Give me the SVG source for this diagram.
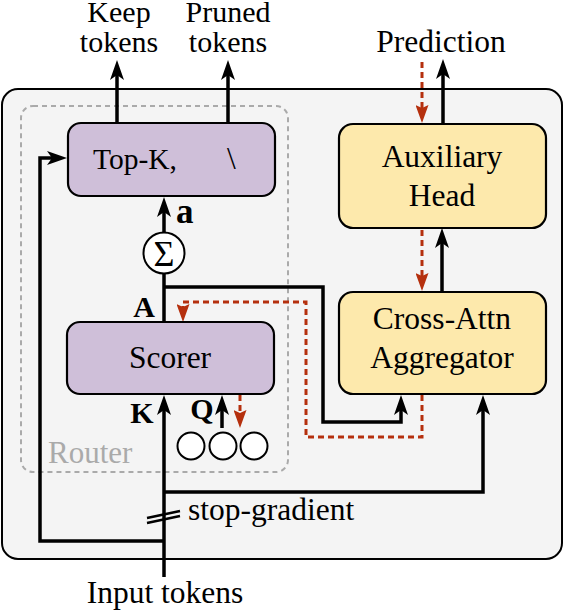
<svg xmlns="http://www.w3.org/2000/svg" width="565" height="611" viewBox="0 0 565 611">
<style>
text{font-family:'Liberation Serif','Tinos','Times New Roman','DejaVu Serif',serif;}
.t{font-size:31.5px;fill:#000;}
.s{font-size:30px;fill:#000;}
.b{font-size:30px;font-weight:bold;fill:#000;}
.box{stroke:#000;stroke-width:2.2;}
.p{fill:#cfbfd9;}
.y{fill:#fde9ac;}
.k{fill:none;stroke:#000;stroke-width:3.5;}
.r{fill:none;stroke:#b5300e;stroke-width:3;stroke-dasharray:6 4;}
</style>
<defs>
<marker id="ah" viewBox="0 0 20 14" refX="5" refY="7" markerWidth="20" markerHeight="14" markerUnits="userSpaceOnUse" orient="auto">
<path d="M0,0 L20,7 L0,14 L5,7 Z" fill="#000"/>
</marker>
<marker id="rh" viewBox="0 0 18 13" refX="3" refY="6.5" markerWidth="18" markerHeight="13" markerUnits="userSpaceOnUse" orient="auto">
<path d="M0,0 L18,6.5 L0,13 L3,6.5 Z" fill="#b5300e"/>
</marker>
</defs>
<rect x="2" y="89" width="560" height="470" rx="16" fill="#f4f4f4" stroke="#000" stroke-width="2"/>
<g id="router">
<rect x="21" y="106" width="267" height="366" rx="12" fill="none" stroke="#aaaaaa" stroke-width="2" stroke-dasharray="5 4"/>
<text x="48" y="463" class="t" style="fill:#aaaaaa;font-size:31px">Router</text>
</g>
<g id="connectors">
<path class="k" d="M117,123 V75" marker-end="url(#ah)"/>
<path class="k" d="M228,123 V75" marker-end="url(#ah)"/>
<path class="k" d="M443,124 V74" marker-end="url(#ah)"/>
<path class="r" d="M422,62 V108" marker-end="url(#rh)"/>
<path class="r" d="M422,230 V276" marker-end="url(#rh)"/>
<path class="k" d="M442,292 V243" marker-end="url(#ah)"/>
<path class="k" d="M164,232 V212" marker-end="url(#ah)"/>
<path class="k" d="M164,322 V274"/>
<path class="k" d="M164,287 H323 V422 H401 V410" marker-end="url(#ah)"/>
<path class="r" d="M422,395 V437 H306 V302 H183 V307" marker-end="url(#rh)"/>
<path class="k" d="M164,577 V410" marker-end="url(#ah)"/>
<path class="k" d="M164,541 H40 V158 H52" marker-end="url(#ah)"/>
<path class="k" d="M164,492 H483 V410" marker-end="url(#ah)"/>
<path class="k" d="M222,428 V410" marker-end="url(#ah)"/>
<path class="r" d="M240,395 V413" marker-end="url(#rh)"/>
<path d="M147,518 L180,511 M147,523 L180,516" stroke="#000" stroke-width="2.5" fill="none"/>
</g>
<g id="topk">
<rect class="box p" x="68" y="123" width="207" height="73" rx="13"/>
<text x="93" y="169" class="t" style="font-size:29.5px">Top-K,</text>
<text x="227" y="169" class="t">\</text>
</g>
<g id="sigma">
<circle cx="164" cy="253" r="20.5" fill="#fff" stroke="#000" stroke-width="2"/>
<text x="164" y="266" class="t" text-anchor="middle" style="font-size:36px">Σ</text>
</g>
<g id="scorer">
<rect class="box p" x="67" y="322" width="207" height="72" rx="13"/>
<text x="170" y="368" class="t" text-anchor="middle">Scorer</text>
</g>
<g id="queries">
<circle cx="191" cy="446" r="13.5" fill="#fff" stroke="#000" stroke-width="2"/>
<circle cx="223" cy="446" r="13.5" fill="#fff" stroke="#000" stroke-width="2"/>
<circle cx="254" cy="446" r="13.5" fill="#fff" stroke="#000" stroke-width="2"/>
</g>
<g id="aux">
<rect class="box y" x="339" y="124" width="207" height="104" rx="14"/>
<text x="442" y="167" class="t" text-anchor="middle">Auxiliary</text>
<text x="442" y="206" class="t" text-anchor="middle">Head</text>
</g>
<g id="cross">
<rect class="box y" x="339" y="292" width="207" height="102" rx="14"/>
<text x="442" y="329" class="t" text-anchor="middle">Cross-Attn</text>
<text x="442" y="368" class="t" text-anchor="middle">Aggregator</text>
</g>
<g id="labels">
<text class="s" text-anchor="middle"><tspan x="119" y="22">Keep</tspan><tspan x="119" y="52">tokens</tspan></text>
<text class="s" text-anchor="middle"><tspan x="228" y="22">Pruned</tspan><tspan x="228" y="52">tokens</tspan></text>
<text x="441" y="52" class="t" text-anchor="middle">Prediction</text>
<text x="165" y="603" class="t" text-anchor="middle">Input tokens</text>
<text x="188" y="520" class="t">stop-gradient</text>
<text x="176" y="223" class="b" style="font-size:35px">a</text>
<text x="144" y="317" class="b" text-anchor="middle">A</text>
<text x="142" y="423" class="b" text-anchor="middle">K</text>
<text x="202" y="419" class="b" text-anchor="middle">Q</text>
</g>
</svg>
